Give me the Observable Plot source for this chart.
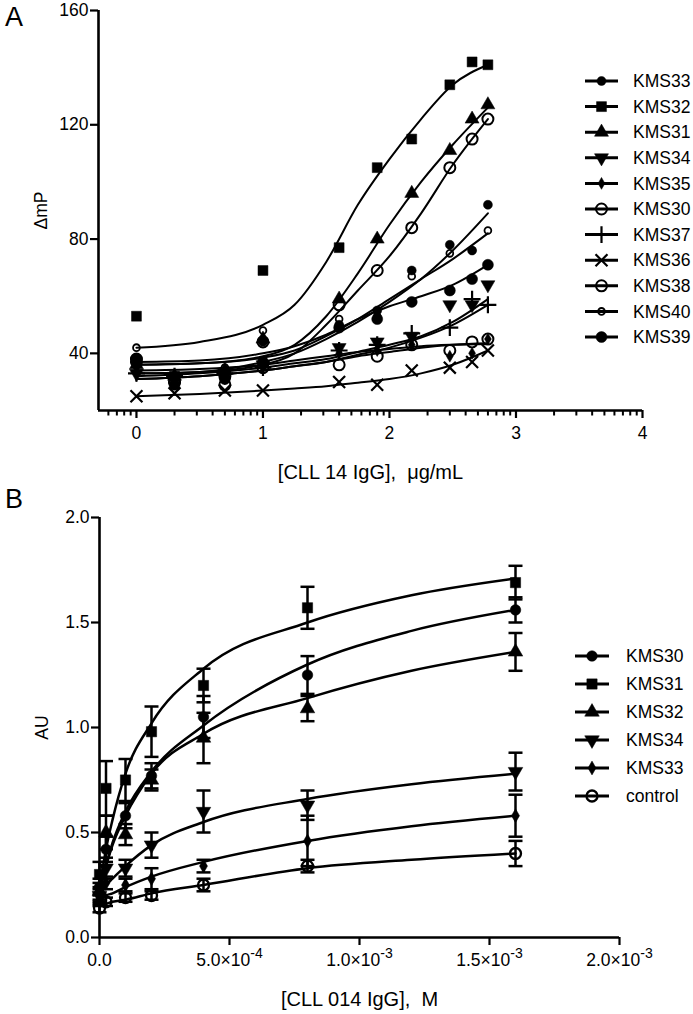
<!DOCTYPE html>
<html><head><meta charset="utf-8">
<script src="https://cdn.jsdelivr.net/npm/d3@7"></script>
<script src="https://cdn.jsdelivr.net/npm/@observablehq/plot@0.6"></script>
<style>
body{margin:0;background:#fff;}
#wrap{position:relative;width:693px;height:1014px;overflow:hidden;font-family:"Liberation Sans",Arial,sans-serif;}
.panel{position:absolute;left:0;}
.plab{position:absolute;font-size:27px;color:#000;}
#legend{position:absolute;left:0;top:0;}
.panel svg g[aria-label="y-axis tick label"] text,
.panel svg g[aria-label="x-axis tick label"] text{font-size:17.5px;font-family:"Liberation Sans",Arial,sans-serif;}
.panel svg g[aria-label="x-axis label"] text{font-size:20px;font-family:"Liberation Sans",Arial,sans-serif;}
.panel svg g[aria-label="y-axis label"] text{font-size:17.5px;font-family:"Liberation Sans",Arial,sans-serif;}
</style></head><body><div id="wrap"></div>
<script>
// ---------- Panel A data (x = log10 concentration, ug/mL) ----------
const xA = [0, 0.301, 0.699, 1, 1.602, 1.903, 2.176, 2.477, 2.653, 2.778];
const seriesA = ["KMS33","KMS32","KMS31","KMS34","KMS35","KMS30","KMS37","KMS36","KMS38","KMS40","KMS39"];
const A_KMS33 = [37, 31, 33, 44, 50, 55, 69, 78, 76, 92];
const A_KMS32 = [53, 32, 33, 69, 77, 105, 115, 134, 142, 141];
const A_KMS31 = [36, 32, 34, 45, 59, 80, 96, 111, 122, 127];
const A_KMS34 = [33, 31, 33, 36, 42, 44, 46, 57, 57, 64];
const A_KMS35 = [35, 30, 31, 35, 40, 41, 43, 39, 40, 45];
const A_KMS30 = [38, 30, 32, 44, 57, 69, 84, 105, 115, 122];
const A_KMS37 = [33, 32, 33, 35, 41, 43, 47, 49, 59, 57];
const A_KMS36 = [25, 26, 27, 27, 30, 29, 34, 35, 37, 41];
const A_KMS38 = [37, 30, 29, 35, 36, 39, 43, 41, 44, 45];
const A_KMS40 = [42, 31, 35, 48, 52, 53, 67, 75, 76, 83];
const A_KMS39 = [38, 29, 31, 37, 49, 52, 58, 62, 66, 71];
// fitted curves
const fitXA = [0, 0.5, 1, 1.25, 1.5, 1.75, 2, 2.25, 2.5, 2.778];
const fitA_KMS33 = [33, 33.5, 37, 40, 45, 51, 58, 66, 76, 89];
const fitA_KMS32 = [42, 44, 50, 57, 72, 92, 108, 122, 134, 141];
const fitA_KMS31 = [36, 36.5, 39, 43, 53, 68, 85, 100, 113, 126];
const fitA_KMS34 = [32, 33, 35, 36.5, 38, 40.5, 43, 46, 51, 59];
const fitA_KMS35 = [34, 34.5, 36, 37.5, 39, 40.5, 41.5, 42.5, 43, 43.3];
const fitA_KMS30 = [33, 33.5, 36, 40, 50, 62, 74, 89, 106, 122];
const fitA_KMS37 = [31, 32, 34, 35.5, 37, 39.5, 42, 45.5, 50, 57];
const fitA_KMS36 = [25, 25.8, 27, 27.7, 28.5, 29.7, 31, 33, 36, 41];
const fitA_KMS38 = [31, 32, 34, 35.5, 37, 39, 40.5, 42, 43, 43.5];
const fitA_KMS40 = [36, 36.5, 38.5, 41, 46, 52, 59, 66, 73, 82];
const fitA_KMS39 = [37, 37.5, 40, 42.5, 46.5, 52, 56.5, 60, 64, 71];
const ticksXA = [0, 1, 2, 3, 4];
const ticksYA = [40, 80, 120, 160];

// ---------- Panel B data (x = molar concentration) ----------
const xB = [0, 2.5e-5, 1e-4, 2e-4, 4e-4, 8e-4, 1.6e-3];
const seriesB = ["KMS30","KMS31","KMS32","KMS34","KMS33","control"];
const B_KMS30 = [0.24, 0.42, 0.58, 0.77, 1.05, 1.25, 1.56];
const B_KMS31 = [0.30, 0.71, 0.75, 0.98, 1.20, 1.57, 1.69];
const B_KMS32 = [0.22, 0.50, 0.49, 0.75, 0.95, 1.09, 1.36];
const B_KMS34 = [0.20, 0.33, 0.33, 0.44, 0.60, 0.63, 0.79];
const B_KMS33 = [0.18, 0.26, 0.25, 0.28, 0.34, 0.46, 0.58];
const B_control = [0.14, 0.17, 0.19, 0.20, 0.25, 0.34, 0.40];
const errB_KMS30 = [0.04, 0.06, 0.06, 0.06, 0.10, 0.09, 0.06];
const errB_KMS31 = [0.06, 0.13, 0.10, 0.12, 0.08, 0.10, 0.08];
const errB_KMS32 = [0.04, 0.08, 0.05, 0.05, 0.12, 0.06, 0.09];
const errB_KMS34 = [0.03, 0.05, 0.04, 0.06, 0.10, 0.07, 0.09];
const errB_KMS33 = [0.03, 0.03, 0.03, 0.05, 0.03, 0.12, 0.10];
const errB_control = [0.02, 0.02, 0.02, 0.02, 0.03, 0.03, 0.06];
const fitXB = [0, 1.25e-5, 2.5e-5, 5e-5, 1e-4, 2e-4, 4e-4, 8e-4, 1.2e-3, 1.6e-3];
const fitB_KMS30 = [0.20, 0.28, 0.34, 0.45, 0.60, 0.79, 1.01, 1.30, 1.46, 1.56];
const fitB_KMS31 = [0.22, 0.33, 0.42, 0.56, 0.78, 1.02, 1.28, 1.50, 1.63, 1.71];
const fitB_KMS32 = [0.20, 0.28, 0.34, 0.44, 0.58, 0.78, 0.97, 1.14, 1.27, 1.36];
const fitB_KMS34 = [0.20, 0.23, 0.25, 0.28, 0.34, 0.44, 0.55, 0.66, 0.73, 0.78];
const fitB_KMS33 = [0.18, 0.19, 0.20, 0.21, 0.24, 0.29, 0.36, 0.46, 0.53, 0.58];
const fitB_control = [0.15, 0.155, 0.16, 0.17, 0.18, 0.21, 0.25, 0.33, 0.37, 0.40];
const ticksXB = [0, 5e-4, 1e-3, 1.5e-3, 2e-3];
const tickMantB = ["0.0", "5.0", "1.0", "1.5", "2.0"];
const tickExpB = [null, "-4", "-3", "-3", "-3"];
const ticksYB = [0, 0.5, 1.0, 1.5, 2.0];

// ---------- symbols ----------
const S3 = Math.sqrt(3);
const triDown = {draw(ctx, size){ const y = -Math.sqrt(size / (S3 * 3)); ctx.moveTo(0, -y * 2); ctx.lineTo(-S3 * y, y); ctx.lineTo(S3 * y, y); ctx.closePath(); }};
const capSym = {draw(ctx){ ctx.moveTo(-7, 0); ctx.lineTo(7, 0); }};
const minorSym = {draw(ctx){ ctx.moveTo(0, 0); ctx.lineTo(0, 5); }};

const styleA = {
  KMS33: {symbol: d3.symbolCircle, r: 4.5, fill: "#000"},
  KMS32: {symbol: d3.symbolSquare, r: 5.6, fill: "#000"},
  KMS31: {symbol: d3.symbolTriangle, r: 5.2, fill: "#000"},
  KMS34: {symbol: triDown, r: 5.2, fill: "#000"},
  KMS35: {symbol: d3.symbolDiamond, r: 3.6, fill: "#000"},
  KMS30: {symbol: d3.symbolCircle, r: 5.5, fill: "none", sw: 2},
  KMS37: {symbol: d3.symbolPlus, r: 5.5, fill: "none", sw: 2.2},
  KMS36: {symbol: d3.symbolTimes, r: 5.5, fill: "none", sw: 2.2},
  KMS38: {symbol: d3.symbolCircle, r: 5.5, fill: "none", sw: 2},
  KMS40: {symbol: d3.symbolCircle, r: 3.4, fill: "none", sw: 1.8},
  KMS39: {symbol: d3.symbolCircle, r: 5.5, fill: "#000"}
};
const styleB = {
  KMS30: {symbol: d3.symbolCircle, r: 5.3, fill: "#000"},
  KMS31: {symbol: d3.symbolSquare, r: 5.8, fill: "#000"},
  KMS32: {symbol: d3.symbolTriangle, r: 5.4, fill: "#000"},
  KMS34: {symbol: triDown, r: 5.4, fill: "#000"},
  KMS33: {symbol: d3.symbolDiamond, r: 4.2, fill: "#000"},
  control: {symbol: d3.symbolCircle, r: 5.5, fill: "none", sw: 2.3}
};

const valsA = {KMS33:A_KMS33,KMS32:A_KMS32,KMS31:A_KMS31,KMS34:A_KMS34,KMS35:A_KMS35,KMS30:A_KMS30,KMS37:A_KMS37,KMS36:A_KMS36,KMS38:A_KMS38,KMS40:A_KMS40,KMS39:A_KMS39};
const fitsA = {KMS33:fitA_KMS33,KMS32:fitA_KMS32,KMS31:fitA_KMS31,KMS34:fitA_KMS34,KMS35:fitA_KMS35,KMS30:fitA_KMS30,KMS37:fitA_KMS37,KMS36:fitA_KMS36,KMS38:fitA_KMS38,KMS40:fitA_KMS40,KMS39:fitA_KMS39};
const valsB = {KMS30:B_KMS30,KMS31:B_KMS31,KMS32:B_KMS32,KMS34:B_KMS34,KMS33:B_KMS33,control:B_control};
const errsB = {KMS30:errB_KMS30,KMS31:errB_KMS31,KMS32:errB_KMS32,KMS34:errB_KMS34,KMS33:errB_KMS33,control:errB_control};
const fitsB = {KMS30:fitB_KMS30,KMS31:fitB_KMS31,KMS32:fitB_KMS32,KMS34:fitB_KMS34,KMS33:fitB_KMS33,control:fitB_control};

// log minor ticks for panel A
const minorA = [];
for (let n = -1; n <= 3; n++) for (let k = 2; k <= 9; k++) { const v = n + Math.log10(k); if (v > -0.3 && v < 4) minorA.push(v); }

const FONT = "'Liberation Sans', Arial, Helvetica, sans-serif";
const baseStyle = {fontFamily: FONT, fontSize: "17px", color: "#000", background: "#fff", overflow: "visible"};

function dotMark(rows, st) {
  return Plot.dot(rows, {x: "x", y: "y", symbol: st.symbol, r: st.r,
    fill: st.fill === "none" ? "none" : st.fill, stroke: "#000", strokeWidth: st.sw || 0.5});
}

// ---------- Panel A ----------
const marksA = [
  Plot.ruleY([20], {stroke: "#000", strokeWidth: 2.6}),
  Plot.ruleX([-0.3], {stroke: "#000", strokeWidth: 2.6}),
  Plot.dot(minorA, {x: d => d, frameAnchor: "bottom", symbol: minorSym, stroke: "#000", strokeWidth: 2}),
  Plot.axisY({ticks: ticksYA, tickSize: 8, tickPadding: 2, strokeWidth: 2.2,
    label: "ΔmP", labelAnchor: "center", labelOffset: 64, labelArrow: "none"}),
  Plot.axisX({ticks: ticksXA, tickSize: 8, tickPadding: 8, strokeWidth: 2.2, tickFormat: d => String(d),
    label: "[CLL 14 IgG],  μg/mL", labelAnchor: "center", labelOffset: 68, labelArrow: "none"})
];
for (const s of seriesA) {
  const fitRows = fitXA.map((x, j) => ({x, y: fitsA[s][j]}));
  marksA.push(Plot.line(fitRows, {x: "x", y: "y", curve: "monotone-x", stroke: "#000", strokeWidth: 2}));
}
for (const s of seriesA) {
  const rows = xA.map((x, j) => ({x, y: valsA[s][j]}));
  marksA.push(dotMark(rows, styleA[s]));
}
const plotA = Plot.plot({
  width: 693, height: 490, marginLeft: 98, marginRight: 51, marginTop: 10, marginBottom: 80,
  x: {domain: [-0.3, 4]}, y: {domain: [20, 160]},
  style: baseStyle, marks: marksA
});

// ---------- Panel B ----------
const marksB = [
  Plot.ruleY([0], {stroke: "#000", strokeWidth: 2.6}),
  Plot.ruleX([0], {stroke: "#000", strokeWidth: 2.6}),
  Plot.axisY({ticks: ticksYB, tickSize: 8, tickPadding: 2, strokeWidth: 2.2, tickFormat: d3.format(".1f"),
    label: "AU", labelAnchor: "center", labelOffset: 64, labelArrow: "none"}),
  Plot.axisX({ticks: ticksXB, tickSize: 8, tickPadding: 8, strokeWidth: 2.2,
    tickFormat: d => { const i = ticksXB.indexOf(d); return tickExpB[i] ? tickMantB[i] + "×10" + tickExpB[i] : tickMantB[i]; },
    label: "[CLL 014 IgG],  M", labelAnchor: "center", labelOffset: 68, labelArrow: "none"})
];
for (const s of seriesB) {
  const fitRows = fitXB.map((x, j) => ({x, y: fitsB[s][j]}));
  marksB.push(Plot.line(fitRows, {x: "x", y: "y", curve: "monotone-x", stroke: "#000", strokeWidth: 2.5}));
}
for (const s of seriesB) {
  const rows = xB.map((x, j) => ({x, y: valsB[s][j], lo: valsB[s][j] - errsB[s][j], hi: valsB[s][j] + errsB[s][j]}));
  marksB.push(Plot.ruleX(rows, {x: "x", y1: "lo", y2: "hi", stroke: "#000", strokeWidth: 2.5}));
  marksB.push(Plot.dot(rows, {x: "x", y: "lo", symbol: capSym, stroke: "#000", strokeWidth: 2.5}));
  marksB.push(Plot.dot(rows, {x: "x", y: "hi", symbol: capSym, stroke: "#000", strokeWidth: 2.5}));
  marksB.push(dotMark(rows, styleB[s]));
}
const plotB = Plot.plot({
  width: 693, height: 524, marginLeft: 99, marginRight: 74, marginTop: 27, marginBottom: 77,
  x: {domain: [0, 2e-3]}, y: {domain: [0, 2]},
  style: baseStyle, marks: marksB
});

// superscript exponents on panel B tick labels
d3.select(plotB).selectAll('g[aria-label="x-axis tick label"] text').each(function() {
  const t = this.textContent, k = t.indexOf("×10");
  if (k < 0) return;
  const sel = d3.select(this); sel.text(null);
  sel.append("tspan").text(t.slice(0, k + 3));
  sel.append("tspan").attr("dy", "-0.55em").attr("font-size", "0.8em").text(t.slice(k + 3));
});

const wrap = document.getElementById("wrap");
const dA = document.createElement("div"); dA.className = "panel"; dA.style.top = "0px"; dA.appendChild(plotA); wrap.appendChild(dA);
const dB = document.createElement("div"); dB.className = "panel"; dB.style.top = "490px"; dB.appendChild(plotB); wrap.appendChild(dB);
const la = document.createElement("div"); la.className = "plab"; la.style.left = "5px"; la.style.top = "2px"; la.textContent = "A"; wrap.appendChild(la);
const lb = document.createElement("div"); lb.className = "plab"; lb.style.left = "5px"; lb.style.top = "484px"; lb.textContent = "B"; wrap.appendChild(lb);

// ---------- legends ----------
const lg = d3.select(wrap).append("svg").attr("id", "legend").attr("width", 693).attr("height", 1014)
  .style("font-family", FONT).style("font-size", "17.5px");
function legend(names, styles, x0, x1, tx, y0, dy) {
  names.forEach((n, i) => {
    const y = y0 + dy * i, st = styles[n];
    lg.append("line").attr("x1", x0).attr("x2", x1).attr("y1", y).attr("y2", y).attr("stroke", "#000").attr("stroke-width", 3);
    lg.append("path").attr("transform", `translate(${(x0 + x1) / 2},${y})`)
      .attr("d", d3.symbol(st.symbol, Math.PI * st.r * st.r)())
      .attr("fill", st.fill).attr("stroke", "#000").attr("stroke-width", st.sw || 0.5);
    lg.append("text").attr("x", tx).attr("y", y).attr("dy", "0.35em").text(n);
  });
}
legend(seriesA, styleA, 585, 618, 633, 81, 25.6);
legend(seriesB, styleB, 575, 609, 626, 656, 28);
</script></body></html>
